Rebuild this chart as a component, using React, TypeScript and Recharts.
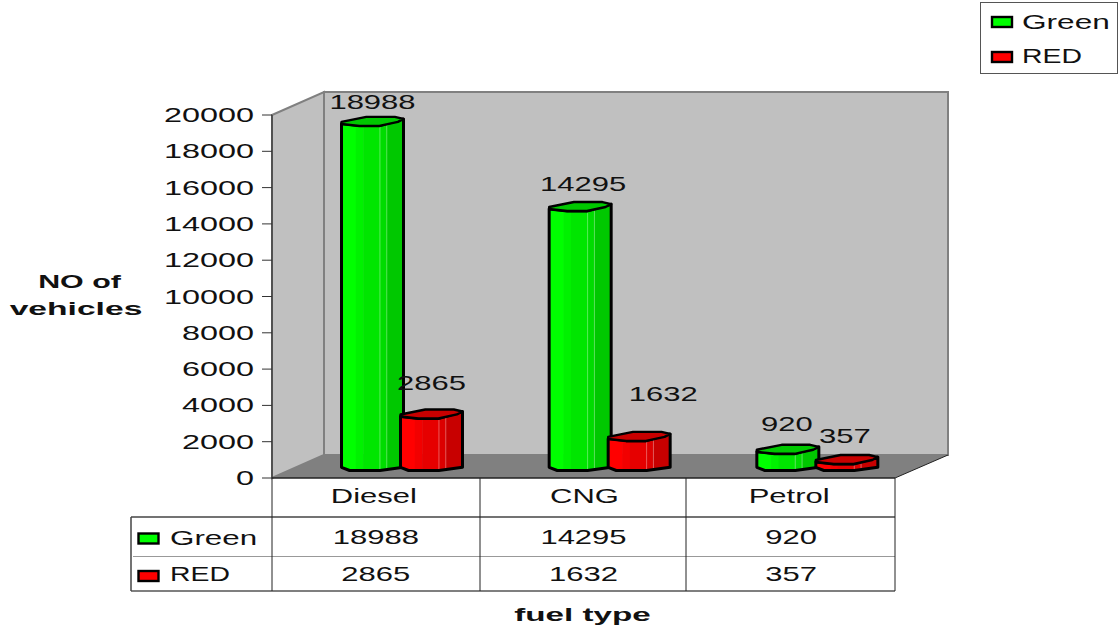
import { Bar, BarChart, LabelList, XAxis, YAxis } from "recharts";

const categories = ["Diesel", "CNG", "Petrol"];
const greenValues = [18988, 14295, 920];
const redValues = [2865, 1632, 357];
const yTicks = [0, 2000, 4000, 6000, 8000, 10000, 12000, 14000, 16000, 18000, 20000];

// hand placed data labels, the original chart has them wherever the author dragged them
const greenLabelNudge = [
  [0, -19],
  [3, -23],
  [-1, -25],
];
const redLabelNudge = [
  [0, -31],
  [24, -42],
  [-2, -24],
];
const categoryNudge = [-2, 1, -2];

const rows = categories.map((name, i) => ({
  name,
  green: greenValues[i],
  red: redValues[i],
}));

const FONT = "'Liberation Sans', Arial, sans-serif";
const TEXT_COLOR = "#111";

// depth of the 3D box
const BAR_DX = 26.5;
const BAR_DY = -12;
const CAP = 4.5;

const greenFacets = ["#00ff00", "#00f200", "#00e600", "#00dc00", "#00c800"];
const redFacets = ["#ff0000", "#f20000", "#e60000", "#dc0000", "#c80000"];
const facetStops = [0, 0.23, 0.35, 0.62, 0.73, 1];
const sheenStops = [0.62, 0.73];

const capShape = [
  [0, 0.1],
  [0.4, -1],
  [0.86, -1],
  [1, -0.55],
  [0.91, 0.1],
  [0.61, 1],
  [0.29, 1],
  [0, 0.55],
];

function WideText({ x, y, children, anchor = "middle", scale = 1.55, size = 20, bold = false }: any) {
  return (
    <text
      transform={`translate(${x} ${y}) scale(${scale} 1)`}
      textAnchor={anchor}
      fontFamily={FONT}
      fontSize={size}
      fontWeight={bold ? 700 : 400}
      fill={TEXT_COLOR}
    >
      {children}
    </text>
  );
}

function makeCylinder(facets: string[], prefix: string) {
  return function Cylinder(props: any) {
    const { x, y, width, height, index } = props;
    const left = x + BAR_DX;
    const topY = y + BAR_DY;
    const botY = y + height + BAR_DY;
    const px = (f: number) => left + f * width;
    const outline = [
      `${px(0)},${topY + CAP * 0.55}`,
      `${px(0)},${botY + CAP * 0.3}`,
      `${px(0.13)},${botY + CAP}`,
      `${px(0.62)},${botY + CAP}`,
      `${px(1)},${botY + CAP * 0.3}`,
      `${px(1)},${topY - CAP * 0.55}`,
      `${px(0.61)},${topY + CAP}`,
      `${px(0.29)},${topY + CAP}`,
    ].join(" ");
    const cap = capShape.map(([f, g]) => `${px(f)},${topY + g * CAP}`).join(" ");
    const clipId = `${prefix}-clip-${index}`;
    return (
      <g>
        <clipPath id={clipId}>
          <polygon points={outline} />
        </clipPath>
        <g clipPath={`url(#${clipId})`}>
          {facets.map((fill, i) => (
            <rect
              key={fill}
              x={px(facetStops[i])}
              y={topY - CAP}
              width={(facetStops[i + 1] - facetStops[i]) * width + 0.5}
              height={height + CAP * 2 + 1}
              fill={fill}
            />
          ))}
          {sheenStops.map((f) => (
            <line
              key={f}
              x1={px(f)}
              x2={px(f)}
              y1={topY}
              y2={botY + CAP}
              stroke="#fff"
              strokeOpacity={0.35}
              strokeWidth={1}
            />
          ))}
        </g>
        <polygon points={outline} fill="none" stroke="#000" strokeWidth={3} strokeLinejoin="round" />
        <polygon points={cap} fill={facets[4]} stroke="#000" strokeWidth={2.4} strokeLinejoin="round" />
      </g>
    );
  };
}

function makeValueLabel(nudges: number[][]) {
  return function ValueLabel(props: any) {
    const { x, y, width, index, value } = props;
    const [nx, ny] = nudges[index];
    return (
      <WideText x={x + width / 2 + BAR_DX + nx} y={y + BAR_DY + ny + 7}>
        {value}
      </WideText>
    );
  };
}

function YTick({ x, y, payload }: any) {
  return (
    <WideText x={x - 6} y={y + 7} anchor="end" scale={1.62}>
      {payload.value}
    </WideText>
  );
}

// x axis tick also carries the data table columns underneath the category name
function TableTick({ x, index }: any) {
  return (
    <g>
      <WideText x={x + categoryNudge[index]} y={503}>{categories[index]}</WideText>
      <WideText x={x} y={544}>{greenValues[index]}</WideText>
      <WideText x={x} y={581}>{redValues[index]}</WideText>
    </g>
  );
}

function Swatch({ x, y, fill, w = 20, h = 10 }: any) {
  return <rect x={x} y={y} width={w} height={h} fill={fill} stroke="#000" strokeWidth={2.4} />;
}

function Backdrop() {
  return (
    <svg width={1119} height={630} style={{ position: "absolute", left: 0, top: 0 }}>
      {/* walls and floor */}
      <polygon points="272,115 324,92 324,455 272,478" fill="#c0c0c0" stroke="#808080" strokeWidth={2} />
      <rect x={324} y={92} width={624} height={363} fill="#c0c0c0" stroke="#808080" strokeWidth={2} />
      <polygon points="272,478 324,455 948,455 895,478" fill="#808080" />
      <line x1={895} y1={478} x2={948} y2={455} stroke="#222" strokeWidth={1} />

      {/* data table */}
      <line x1={272} y1={478} x2={895} y2={478} stroke="#222" strokeWidth={1.5} />
      <line x1={131} y1={517} x2={895} y2={517} stroke="#444" strokeWidth={1.5} />
      <line x1={133} y1={556.5} x2={895} y2={556.5} stroke="#999" strokeWidth={1} />
      <line x1={131} y1={591} x2={895} y2={591} stroke="#555" strokeWidth={1.5} />
      <line x1={131} y1={517} x2={131} y2={591} stroke="#444" strokeWidth={1.5} />
      {[272, 480, 686, 895].map((x) => (
        <line key={x} x1={x} y1={478} x2={x} y2={591} stroke="#222" strokeWidth={1} />
      ))}
      <Swatch x={138.5} y={533.5} fill="#00ff00" />
      <Swatch x={138.5} y={571} fill="#ff0000" />
      <WideText x={170} y={545} anchor="start" scale={1.57}>Green</WideText>
      <WideText x={170} y={581} anchor="start" scale={1.42}>RED</WideText>

      {/* axis titles */}
      <WideText x={79.5} y={288} bold size={19} scale={1.6}>NO of</WideText>
      <WideText x={76} y={315} bold size={19} scale={1.77}>vehicles</WideText>
      <WideText x={582.5} y={621} bold size={19} scale={1.75}>fuel type</WideText>

      {/* legend */}
      <rect x={980.5} y={2.5} width={137} height={71} fill="#fff" stroke="#555" strokeWidth={1} />
      <Swatch x={992} y={17} fill="#00ff00" />
      <Swatch x={992} y={52} fill="#ff0000" />
      <WideText x={1022} y={29} anchor="start" scale={1.58}>Green</WideText>
      <WideText x={1022} y={63} anchor="start" scale={1.42}>RED</WideText>
    </svg>
  );
}

export default function App() {
  return (
    <div style={{ position: "absolute", left: 0, top: 0, width: 1119, height: 630, background: "#fff" }}>
      <Backdrop />
      <div style={{ position: "absolute", left: 0, top: 0 }}>
        <BarChart
          width={1119}
          height={630}
          data={rows}
          margin={{ top: 115, right: 224, bottom: 112, left: 172 }}
          barSize={62}
          barGap={-3}
        >
          <XAxis
            dataKey="name"
            height={40}
            axisLine={false}
            tickLine={false}
            interval={0}
            tick={<TableTick />}
          />
          <YAxis
            type="number"
            domain={[0, 20000]}
            ticks={yTicks}
            width={100}
            axisLine={{ stroke: "#222", strokeWidth: 1 }}
            tickLine={{ stroke: "#333", strokeWidth: 1 }}
            tickSize={10}
            interval={0}
            tick={<YTick />}
          />
          <Bar dataKey="green" isAnimationActive={false} shape={makeCylinder(greenFacets, "green")}>
            <LabelList dataKey="green" content={makeValueLabel(greenLabelNudge)} />
          </Bar>
          <Bar dataKey="red" isAnimationActive={false} shape={makeCylinder(redFacets, "red")}>
            <LabelList dataKey="red" content={makeValueLabel(redLabelNudge)} />
          </Bar>
        </BarChart>
      </div>
    </div>
  );
}
